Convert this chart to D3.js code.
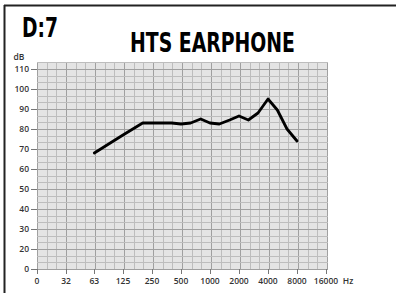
<!DOCTYPE html>
<html>
<head>
<meta charset="UTF-8">
<title>HTS EARPHONE</title>
<script src="https://d3js.org/d3.v7.min.js"></script>
<style>
    body { margin: 0; background: #fff; }
    .tick-label { font-family: "Open Sans", sans-serif; font-size: 8.5px; font-weight: 600; fill: #333; }
    .big { font-family: "Liberation Sans Narrow", "DejaVu Sans Condensed", sans-serif; font-weight: bold; fill: #000; }
</style>
</head>
<body>
<div id="chart"></div>
<script>
    // response curve
    var freqs = [63, 125, 200, 400, 500, 630, 800, 1000, 1250, 1600, 2000, 2500, 3150, 4000, 5000, 6300, 8000];
    var levels = [68, 77, 83, 83, 82.5, 83, 85, 83, 82.5, 84.5, 86.5, 84.5, 88, 95, 89.5, 80, 74];

    // x ticks: "0" sits one octave below 32 Hz
    var xTicks = [16, 32, 63, 125, 250, 500, 1000, 2000, 4000, 8000, 16000];
    var xLabels = ["0", "32", "63", "125", "250", "500", "1000", "2000", "4000", "8000", "16000"];
    var yTicks = [0, 20, 30, 40, 50, 60, 70, 80, 90, 100, 110];

    var W = 396, H = 293;
    var svg = d3.select("#chart").append("svg")
        .attr("width", W).attr("height", H);

    var x = d3.scaleLog().base(2).domain([16, 16000]).range([37, 326]);
    // the 0..20 dB part of the axis is squeezed into one step
    var y = d3.scaleLinear().domain([0, 20, 110]).range([269, 249, 69]);

    // frame
    svg.append("line").attr("x1", 4).attr("x2", W).attr("y1", 5.5).attr("y2", 5.5)
        .attr("stroke", "#222").attr("stroke-width", 2);
    svg.append("line").attr("x1", 4.5).attr("x2", 4.5).attr("y1", 5).attr("y2", H)
        .attr("stroke", "#222").attr("stroke-width", 2);

    // titles
    svg.append("text").attr("class", "big").attr("x", 22).attr("y", 37)
        .attr("font-size", 26).attr("textLength", 36).attr("lengthAdjust", "spacingAndGlyphs")
        .text("D:7");
    svg.append("text").attr("class", "big").attr("x", 130).attr("y", 52)
        .attr("font-size", 26).attr("textLength", 165).attr("lengthAdjust", "spacingAndGlyphs")
        .text("HTS EARPHONE");

    // grid background
    svg.append("rect").attr("x", 37).attr("y", 62).attr("width", 291).attr("height", 207)
        .attr("fill", "#e4e4e4");

    var grid = svg.append("g");
    // minor verticals: 3 per octave
    var vMinor = d3.range(0, 31).map(function (k) { return 16 * Math.pow(2, k / 3); });
    grid.selectAll(".vline").data(vMinor).enter().append("line")
        .attr("x1", function (d) { return Math.round(x(d)) + 0.5; })
        .attr("x2", function (d) { return Math.round(x(d)) + 0.5; })
        .attr("y1", 62).attr("y2", 269)
        .attr("stroke", function (d, i) { return i % 3 === 0 ? "#a0a0a0" : "#bdbdbd"; })
        .attr("stroke-width", 1);

    // minor horizontals: 3 per step
    var hMinor = [0, 20 / 3, 40 / 3].concat(d3.range(0, 29).map(function (k) { return 20 + k * 10 / 3; }));
    grid.selectAll(".hline").data(hMinor).enter().append("line")
        .attr("x1", 37).attr("x2", 328)
        .attr("y1", function (d) { return Math.round(y(d)) + 0.5; })
        .attr("y2", function (d) { return Math.round(y(d)) + 0.5; })
        .attr("stroke", function (d) {
            var major = yTicks.some(function (t) { return Math.abs(t - d) < 0.01; });
            return major ? "#a0a0a0" : "#bdbdbd";
        })
        .attr("stroke-width", 1);

    // y axis
    var yAxis = svg.append("g");
    yAxis.selectAll("line").data(yTicks).enter().append("line")
        .attr("x1", 31).attr("x2", 37)
        .attr("y1", function (d) { return Math.round(y(d)) + 0.5; })
        .attr("y2", function (d) { return Math.round(y(d)) + 0.5; })
        .attr("stroke", "#777");
    yAxis.selectAll("text").data(yTicks).enter().append("text")
        .attr("class", "tick-label")
        .attr("x", 29).attr("y", function (d) { return y(d) + 3; })
        .attr("text-anchor", "end")
        .text(function (d) { return d; });
    svg.append("text").attr("class", "tick-label").attr("x", 19).attr("y", 60)
        .attr("text-anchor", "middle").attr("font-size", "7px").text("dB");

    // x axis
    var xAxis = svg.append("g");
    xAxis.selectAll("line").data(xTicks).enter().append("line")
        .attr("x1", function (d) { return Math.round(x(d)) + 0.5; })
        .attr("x2", function (d) { return Math.round(x(d)) + 0.5; })
        .attr("y1", 269).attr("y2", 274)
        .attr("stroke", "#777");
    xAxis.selectAll("text").data(xTicks).enter().append("text")
        .attr("class", "tick-label")
        .attr("x", function (d) { return x(d); }).attr("y", 284)
        .attr("text-anchor", "middle")
        .text(function (d, i) { return xLabels[i]; });
    svg.append("text").attr("class", "tick-label").attr("x", 348).attr("y", 284)
        .attr("text-anchor", "middle").text("Hz");

    // curve
    var pts = freqs.map(function (f, i) { return [f, levels[i]]; });
    var line = d3.line()
        .x(function (d) { return x(d[0]); })
        .y(function (d) { return y(d[1]); });
    svg.append("path").datum(pts)
        .attr("d", line)
        .attr("fill", "none")
        .attr("stroke", "#000")
        .attr("stroke-width", 2.8)
        .attr("stroke-linejoin", "round")
        .attr("stroke-linecap", "round");
</script>
</body>
</html>
